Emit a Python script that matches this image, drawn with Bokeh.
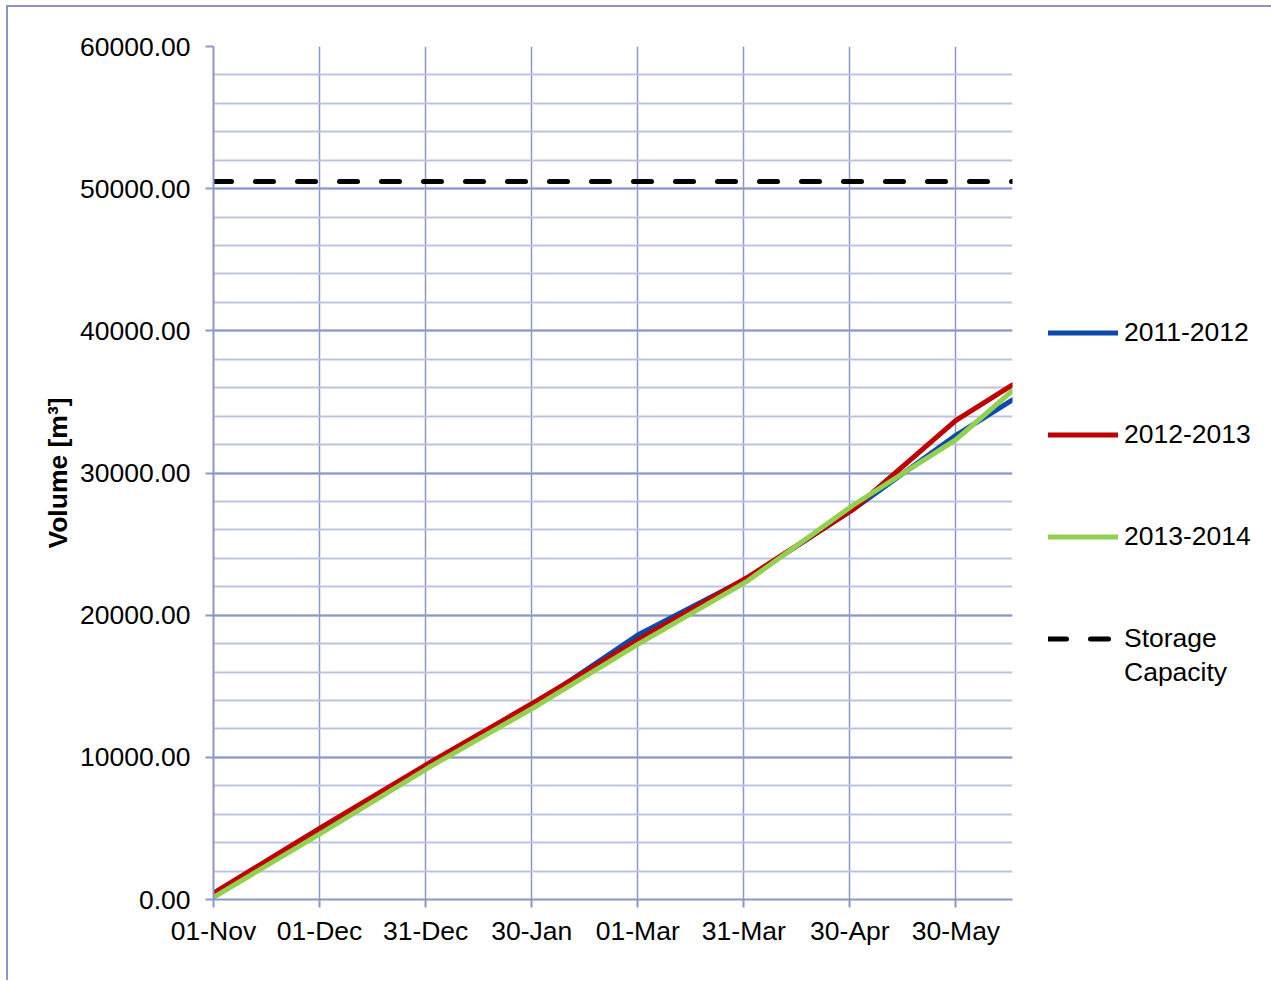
from bokeh.plotting import figure
from bokeh.models import (ColumnDataSource, FixedTicker, NumeralTickFormatter,
                          Legend, LegendItem, Range1d)
from bokeh.embed import file_html
from bokeh.resources import INLINE

# ---- data ----
tick_days = [0, 30, 60, 90, 120, 150, 180, 210]
tick_labels = ["01-Nov", "01-Dec", "31-Dec", "30-Jan", "01-Mar", "31-Mar", "30-Apr", "30-May"]

days = [0, 30, 61, 92, 120, 151, 181, 210, 226]
vol_2011_2012 = [200, 4800, 9450, 13900, 18600, 22600, 27450, 32650, 35150]
vol_2012_2013 = [450, 5000, 9600, 14050, 18250, 22650, 27450, 33700, 36200]
vol_2013_2014 = [150, 4600, 9300, 13700, 17950, 22400, 27750, 32350, 35800]

storage_days = [0, 226]
storage_capacity = [50500, 50500]

series_names = ["2011-2012", "2012-2013", "2013-2014"]
series_colors = ["#0a4aad", "#c00000", "#92d050"]

FONT = "Liberation Sans"
FS = "26.5px"
GRID = "#8c97c9"
MINOR = "#bcc3e2"

p = figure(frame_width=799, frame_height=853,
           min_border_left=205, min_border_top=39, min_border_right=258, min_border_bottom=81,
           x_range=Range1d(0, 226), y_range=Range1d(0, 60000),
           output_backend="svg", toolbar_location=None)
p.styles = {"border-left": "2px solid #8c97c9", "border-top": "2px solid #8c97c9",
            "margin-left": "6px", "margin-top": "5px"}
p.outline_line_color = None
p.background_fill_color = "white"
p.border_fill_color = "white"

# axes
p.xaxis.ticker = FixedTicker(ticks=tick_days)
p.xaxis.major_label_overrides = {d: l for d, l in zip(tick_days, tick_labels)}
p.yaxis.ticker = FixedTicker(ticks=[0, 10000, 20000, 30000, 40000, 50000, 60000],
                             minor_ticks=list(range(0, 60001, 2000)))
p.yaxis.formatter = NumeralTickFormatter(format="0.00")
for ax in (p.xaxis, p.yaxis):
    ax.axis_line_color = GRID
    ax.axis_line_width = 2
    ax.major_tick_line_color = GRID
    ax.major_tick_line_width = 2
    ax.major_tick_out = 8
    ax.major_tick_in = 0
    ax.minor_tick_line_color = None
    ax.major_label_text_font = FONT
    ax.major_label_text_font_size = FS
    ax.major_label_text_color = "black"
p.xaxis.major_label_standoff = 8
p.yaxis.major_label_standoff = 15
p.yaxis.axis_label = "Volume [m³]"
p.yaxis.axis_label_text_font = FONT
p.yaxis.axis_label_text_font_size = FS
p.yaxis.axis_label_text_font_style = "bold"
p.yaxis.axis_label_text_color = "black"
p.yaxis.axis_label_standoff = 4

# grids
p.xgrid.grid_line_color = GRID
p.xgrid.grid_line_width = 1.5
p.ygrid.grid_line_color = GRID
p.ygrid.grid_line_width = 2
p.ygrid.minor_grid_line_color = MINOR
p.ygrid.minor_grid_line_width = 2

# lines
series_renderers = []
for name, vals, col in zip(series_names, [vol_2011_2012, vol_2012_2013, vol_2013_2014], series_colors):
    src = ColumnDataSource(dict(x=days, y=vals))
    r = p.line("x", "y", source=src, line_color=col, line_width=5, line_join="round", line_cap="round")
    series_renderers.append((name, r))

cap_src = ColumnDataSource(dict(x=storage_days, y=storage_capacity))
rc = p.line("x", "y", source=cap_src, line_color="black", line_width=5,
            line_dash="18 24", line_cap="round")
# invisible helper renderer used only for spacer / second-line legend entries
ghost = p.line("x", "y", source=cap_src, line_alpha=0)

items = []
for i, (name, r) in enumerate(series_renderers):
    items.append(LegendItem(label=name, renderers=[r]))
    items.append(LegendItem(label=" ", renderers=[ghost]))
    items.append(LegendItem(label=" ", renderers=[ghost]))
items.append(LegendItem(label="Storage", renderers=[rc]))
items.append(LegendItem(label="Capacity", renderers=[ghost]))

legend = Legend(items=items,
                location=(36, 211), orientation="vertical",
                glyph_width=70, glyph_height=31, label_height=31, label_standoff=6,
                spacing=3, padding=0, margin=0,
                border_line_alpha=0, background_fill_alpha=0,
                label_text_font=FONT, label_text_font_size=FS, label_text_color="black")
p.add_layout(legend, "right")

open("out.html", "w").write(file_html(p, INLINE))
